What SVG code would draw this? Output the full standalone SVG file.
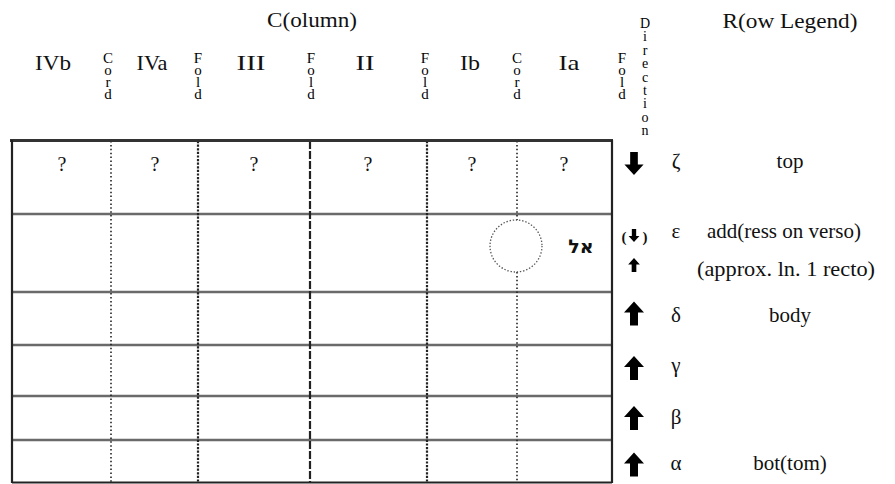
<svg xmlns="http://www.w3.org/2000/svg" width="895" height="484" viewBox="0 0 895 484">
<defs>
<style>
text{font-family:"Liberation Serif","Times New Roman",serif;fill:#111}
.hd{font-size:22px;text-anchor:middle}
.big{font-size:22px;text-anchor:middle}
.vt{font-size:15px;writing-mode:vertical-rl;text-orientation:upright;letter-spacing:-4px;fill:#000}
.vd{font-size:14px;writing-mode:vertical-rl;text-orientation:upright;letter-spacing:-1.6px;fill:#000}
.lg{font-size:21px;text-anchor:middle}
.q{font-size:20px;text-anchor:middle}
.row{stroke:#6a6a6a;stroke-width:2.5;fill:none}
.border{stroke:#222;stroke-width:2.2;fill:none}
.cord{stroke:#222;stroke-width:1.6;stroke-dasharray:1.5 2.4;fill:none}
.fold{stroke:#222;stroke-width:2.2;stroke-dasharray:2.2 1.4;fill:none}
.foldc{stroke:#222;stroke-width:2.2;stroke-dasharray:8 2;fill:none}
</style>
<symbol id="up" viewBox="0 0 20 24"><path d="M10,0 L20,11 L14,11 L14,24 L6,24 L6,11 L0,11 Z" fill="#000"/></symbol>
<symbol id="down" viewBox="0 0 20 24"><path d="M10,24 L20,13 L14,13 L14,0 L6,0 L6,13 L0,13 Z" fill="#000"/></symbol>
</defs>
<rect width="895" height="484" fill="#fff"/>

<g id="headers">
<text class="big" x="312" y="27" textLength="90" lengthAdjust="spacingAndGlyphs">C(olumn)</text>
<text class="big" x="790" y="28" textLength="135" lengthAdjust="spacingAndGlyphs">R(ow Legend)</text>
<text class="hd" x="53" y="70" textLength="36" lengthAdjust="spacingAndGlyphs">IVb</text>
<text class="hd" x="152" y="70" textLength="31" lengthAdjust="spacingAndGlyphs">IVa</text>
<text class="hd" x="251" y="70" textLength="29" lengthAdjust="spacingAndGlyphs">III</text>
<text class="hd" x="365" y="70" textLength="19" lengthAdjust="spacingAndGlyphs">II</text>
<text class="hd" x="470" y="70" textLength="20" lengthAdjust="spacingAndGlyphs">Ib</text>
<text class="hd" x="569" y="70" textLength="21" lengthAdjust="spacingAndGlyphs">Ia</text>
</g>

<g id="vlabels" opacity="0.99">
<text id="cord1" class="vt" x="108" y="50">Cord</text>
<text id="fold1" class="vt" x="198" y="50">Fold</text>
<text id="fold2" class="vt" x="311" y="50">Fold</text>
<text id="fold3" class="vt" x="425" y="50">Fold</text>
<text id="cord2" class="vt" x="517" y="50">Cord</text>
<text id="fold4" class="vt" x="622" y="50">Fold</text>
<text id="direction" class="vd" x="645" y="16">Direction</text>
</g>

<g id="grid">
<line class="row" x1="12" y1="214" x2="612" y2="214"/>
<line class="row" x1="12" y1="292" x2="612" y2="292"/>
<line class="row" x1="12" y1="345" x2="612" y2="345"/>
<line class="row" x1="12" y1="396" x2="612" y2="396"/>
<line class="row" x1="12" y1="440" x2="612" y2="440"/>
<line class="cord" x1="111" y1="141" x2="111" y2="482"/>
<line class="fold" x1="198" y1="141" x2="198" y2="482"/>
<line class="foldc" x1="310" y1="141" x2="310" y2="482"/>
<line class="fold" x1="427" y1="141" x2="427" y2="482"/>
<line class="cord" x1="517" y1="141" x2="517" y2="220"/>
<line class="cord" x1="517" y1="272" x2="517" y2="482"/>
<line x1="10" y1="140.5" x2="613" y2="140.5" stroke="#333" stroke-width="2.8"/>
<line class="border" x1="12" y1="140" x2="12" y2="483"/>
<line class="border" x1="612" y1="140" x2="612" y2="483"/>
<line class="border" x1="12" y1="482.5" x2="612" y2="482.5"/>
</g>

<g id="cells">
<text class="q" x="62" y="171">?</text>
<text class="q" x="155" y="171">?</text>
<text class="q" x="254" y="171">?</text>
<text class="q" x="368" y="171">?</text>
<text class="q" x="472" y="171">?</text>
<text class="q" x="564" y="171">?</text>
<circle id="seal" cx="516" cy="246" r="26" fill="none" stroke="#555" stroke-width="1.3" stroke-dasharray="1.4 1.8"/>
<text id="address" x="581" y="253" style="font-family:'DejaVu Sans','Noto Sans',sans-serif;font-size:19px;font-weight:bold;text-anchor:middle">אל</text>
</g>

<g id="legend">
<g id="row-zeta"><use href="#down" x="624" y="152" width="20" height="23"/><text class="lg" x="676" y="168">ζ</text><text class="lg" x="790" y="168">top</text></g>
<g id="row-epsilon">
<text x="624" y="242" style="font-size:15px;font-weight:bold;text-anchor:middle">(</text>
<use href="#down" x="628" y="229" width="12" height="13"/>
<text x="645" y="242" style="font-size:15px;font-weight:bold;text-anchor:middle">)</text>
<use href="#up" x="628" y="258" width="12" height="14"/>
<text class="lg" x="676" y="238">ε</text>
<text class="lg" x="784" y="238">add(ress on verso)</text>
<text x="697" y="276" style="font-size:21px" textLength="178" lengthAdjust="spacingAndGlyphs">(approx. ln. 1 recto)</text>
</g>
<g id="row-delta"><use href="#up" x="624" y="301" width="20" height="25"/><text class="lg" x="676" y="322">δ</text><text class="lg" x="790" y="322">body</text></g>
<g id="row-gamma"><use href="#up" x="624" y="356" width="20" height="24"/><text class="lg" x="676" y="372">γ</text></g>
<g id="row-beta"><use href="#up" x="624" y="406" width="20" height="24"/><text class="lg" x="676" y="424">β</text></g>
<g id="row-alpha"><use href="#up" x="624" y="452" width="20" height="25"/><text class="lg" x="676" y="470">α</text><text class="lg" x="790" y="470">bot(tom)</text></g>
</g>
</svg>
